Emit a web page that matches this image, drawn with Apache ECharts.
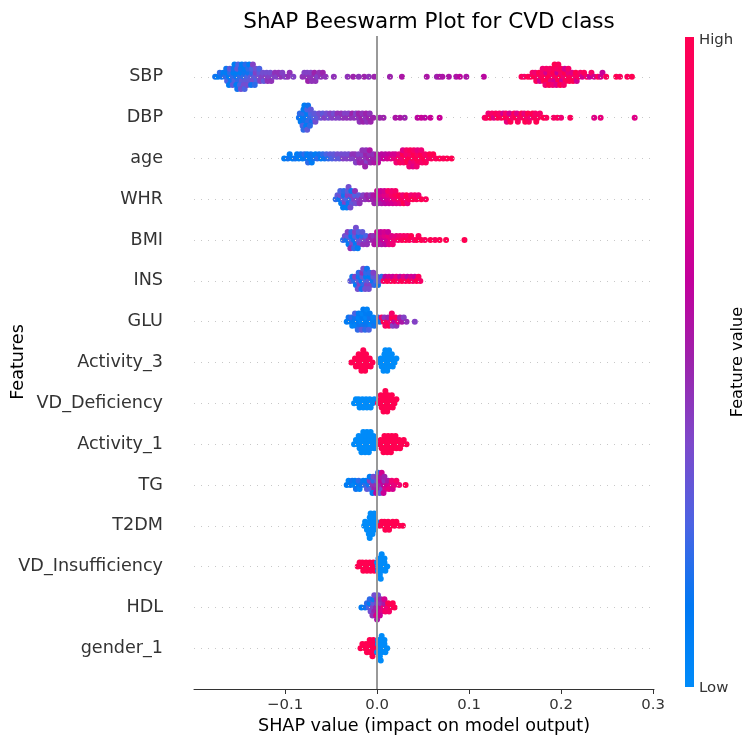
<!DOCTYPE html>
<html>
<head>
<meta charset="utf-8">
<title>ShAP Beeswarm Plot for CVD class</title>
<script src="https://cdn.jsdelivr.net/npm/echarts@6/dist/echarts.min.js"></script>
<style>
  html, body { margin: 0; padding: 0; background: #fff; }
  #chart { width: 748px; height: 740px; }
</style>
</head>
<body>
<div id="chart"></div>
<script>
// features, top row first
const features = ['SBP', 'DBP', 'age', 'WHR', 'BMI', 'INS', 'GLU', 'Activity_3', 'VD_Deficiency',
  'Activity_1', 'TG', 'T2DM', 'VD_Insufficiency', 'HDL', 'gender_1'];
const xTicks = [-0.1, 0, 0.1, 0.2, 0.3];

// each point: [shap value, feature value scaled 0 (low) .. 1 (high)]
const sbp = [
  [-0.176,.15],[-0.173,.1],[-0.171,.2],[-0.169,.15],[-0.167,.1],
  [-0.165,.2],[-0.164,.1],[-0.163,.25],[-0.164,.15],
  [-0.161,.1],[-0.16,.2],[-0.159,.15],[-0.16,.3],[-0.161,.1],
  [-0.157,.2],[-0.156,.1],[-0.155,.25],[-0.156,.15],[-0.157,.3],[-0.155,.1],
  [-0.153,.15],[-0.152,.1],[-0.151,.2],[-0.152,.3],[-0.153,.1],[-0.151,.25],[-0.152,.15],
  [-0.149,.2],[-0.148,.1],[-0.147,.3],[-0.148,.15],[-0.149,.25],[-0.147,.1],[-0.148,.35],
  [-0.145,.2],[-0.144,.15],[-0.143,.3],[-0.144,.1],[-0.145,.35],[-0.143,.2],[-0.144,.25],
  [-0.141,.25],[-0.14,.15],[-0.139,.3],[-0.14,.2],[-0.141,.35],[-0.139,.1],
  [-0.137,.3],[-0.136,.2],[-0.135,.35],[-0.136,.25],[-0.137,.15],[-0.135,.4],
  [-0.133,.3],[-0.132,.4],[-0.131,.25],[-0.132,.35],[-0.133,.2],
  [-0.129,.35],[-0.128,.3],[-0.127,.4],[-0.128,.25],
  [-0.125,.4],[-0.124,.35],[-0.123,.3],[-0.121,.4],[-0.12,.35],[-0.119,.45],
  [-0.117,.4],[-0.116,.35],[-0.115,.45],[-0.113,.4],[-0.111,.45],[-0.109,.4],[-0.107,.45],
  [-0.105,.45],[-0.103,.4],[-0.1,.4],[-0.097,.45],[-0.095,.45],[-0.091,.4],
  [-0.081,.45],[-0.079,.4],[-0.077,.45],[-0.076,.4],[-0.075,.5],
  [-0.073,.45],[-0.072,.4],[-0.071,.45],[-0.069,.45],[-0.068,.5],[-0.067,.45],
  [-0.065,.4],[-0.063,.45],[-0.061,.45],[-0.059,.5],[-0.056,.45],
  [-0.047,.45],[-0.032,.45],[-0.026,.5],[-0.02,.45],[-0.014,.5],[-0.009,.45],[-0.003,.5],
  [0.014,.5],[0.027,.55],[0.054,.55],[0.065,.5],[0.068,.55],[0.071,.55],[0.078,.55],
  [0.086,.55],[0.09,.6],[0.097,.55],[0.116,.6],
  [0.157,.95],[0.16,.9],[0.164,1],[0.167,.95],[0.169,.9],
  [0.171,1],[0.172,.85],[0.173,.95],[0.175,.9],[0.176,1],[0.177,.7],
  [0.179,.95],[0.18,.9],[0.181,1],[0.18,.85],
  [0.183,.95],[0.184,.7],[0.185,1],[0.184,.9],[0.183,.85],
  [0.187,1],[0.188,.95],[0.189,.75],[0.188,.9],[0.187,1],
  [0.191,.9],[0.192,1],[0.193,.7],[0.192,.95],[0.191,.85],[0.193,1],
  [0.195,.95],[0.196,.65],[0.197,1],[0.196,.9],[0.195,.75],[0.197,.95],
  [0.199,1],[0.2,.9],[0.201,.7],[0.2,.95],[0.199,1],
  [0.203,.85],[0.204,1],[0.205,.95],[0.204,.7],[0.203,.9],
  [0.207,.95],[0.208,.8],[0.209,1],[0.208,.9],
  [0.211,.95],[0.212,.75],[0.213,1],[0.215,.9],[0.216,1],[0.217,.7],
  [0.219,.95],[0.221,.9],[0.223,.7],[0.225,.95],[0.228,.9],[0.231,.65],[0.233,.9],
  [0.236,.7],[0.24,.95],[0.243,.7],[0.245,.65],[0.249,.95],[0.26,1],[0.264,.95],
  [0.272,.95],[0.277,1]
];
const dbp = [
  [-0.085,.15],[-0.084,.2],[-0.083,.1],
  [-0.081,.1],[-0.08,.2],[-0.079,.15],[-0.08,.1],[-0.081,.25],[-0.079,.1],[-0.08,.2],
  [-0.077,.15],[-0.076,.1],[-0.075,.2],[-0.076,.25],[-0.077,.1],[-0.075,.15],[-0.076,.3],
  [-0.073,.2],[-0.072,.25],[-0.071,.15],[-0.072,.3],[-0.073,.2],
  [-0.069,.25],[-0.068,.3],[-0.067,.35],[-0.065,.3],[-0.063,.35],[-0.061,.35],[-0.059,.3],
  [-0.057,.4],[-0.055,.35],[-0.053,.35],[-0.051,.4],[-0.049,.4],[-0.047,.35],
  [-0.045,.4],[-0.043,.45],[-0.041,.4],[-0.039,.45],[-0.037,.45],[-0.035,.4],
  [-0.033,.45],[-0.031,.4],[-0.029,.45],[-0.027,.5],[-0.025,.45],[-0.023,.4],
  [-0.021,.45],[-0.02,.5],[-0.019,.45],[-0.017,.5],[-0.016,.45],[-0.015,.5],
  [-0.013,.45],[-0.012,.5],[-0.011,.45],[-0.009,.5],[-0.008,.45],[-0.007,.5],[-0.004,.5],
  [0.003,.5],[0.007,.5],[0.02,.55],[0.025,.55],[0.03,.5],[0.044,.6],[0.048,.65],
  [0.052,.6],[0.058,.65],[0.068,.65],
  [0.117,.9],[0.119,.95],[0.121,.85],[0.123,1],[0.125,.9],[0.127,.75],[0.129,.95],
  [0.131,1],[0.133,.9],[0.135,.95],[0.137,.7],[0.139,1],[0.14,.9],[0.141,.8],
  [0.143,.95],[0.144,.7],[0.145,1],[0.147,.9],[0.149,.95],[0.151,1],[0.152,.75],[0.153,.95],
  [0.155,.9],[0.157,1],[0.159,.95],[0.16,.8],[0.161,1],[0.163,.9],[0.164,1],[0.165,.95],
  [0.167,.85],[0.169,1],[0.171,.95],[0.172,.9],[0.173,1],[0.175,.95],[0.177,.9],
  [0.181,1],[0.184,.95],[0.192,.9],[0.196,.95],[0.2,.85],[0.21,.95],[0.236,.75],
  [0.243,.8],[0.28,.75]
];
const age = [
  [-0.101,.1],[-0.097,.15],[-0.095,.1],[-0.092,.1],[-0.089,.15],[-0.087,.1],
  [-0.085,.1],[-0.083,.15],[-0.081,.1],[-0.079,.2],[-0.077,.15],[-0.076,.1],[-0.075,.2],
  [-0.073,.1],[-0.072,.15],[-0.071,.1],[-0.069,.15],[-0.067,.1],[-0.065,.2],[-0.063,.15],
  [-0.061,.1],[-0.059,.2],[-0.057,.15],[-0.055,.25],[-0.053,.2],[-0.051,.3],
  [-0.049,.25],[-0.047,.3],[-0.045,.3],[-0.043,.35],[-0.041,.3],[-0.039,.35],
  [-0.037,.4],[-0.035,.35],[-0.033,.4],[-0.031,.35],[-0.029,.4],[-0.027,.45],
  [-0.025,.4],[-0.024,.45],[-0.023,.4],[-0.021,.45],[-0.02,.4],[-0.019,.5],
  [-0.017,.45],[-0.016,.4],[-0.015,.5],[-0.016,.45],
  [-0.013,.45],[-0.012,.5],[-0.011,.4],[-0.012,.45],[-0.013,.5],
  [-0.009,.5],[-0.008,.45],[-0.007,.5],[-0.008,.55],[-0.005,.5],[-0.004,.45],[-0.003,.55],
  [-0.001,.5],[0,.55],[0.001,.6],[0.003,.55],[0.005,.6],[0.007,.65],[0.009,.6],
  [0.011,.7],[0.013,.65],[0.015,.75],[0.017,.7],[0.019,.8],[0.02,.7],[0.021,.85],
  [0.023,.9],[0.024,.8],[0.025,.95],[0.027,.85],[0.028,1],[0.029,.9],[0.028,.75],
  [0.031,.95],[0.032,.85],[0.033,1],[0.032,.9],
  [0.035,1],[0.036,.9],[0.037,.8],[0.036,.95],[0.035,.85],
  [0.039,.95],[0.04,1],[0.041,.85],[0.04,.9],[0.039,.75],
  [0.043,1],[0.044,.9],[0.045,.95],[0.044,.8],[0.043,.85],
  [0.047,.95],[0.048,1],[0.049,.9],[0.048,.85],[0.051,1],[0.052,.9],[0.053,.95],
  [0.055,.9],[0.057,1],[0.059,.95],[0.061,1],[0.064,.95],[0.068,1],[0.072,.95],
  [0.076,1],[0.081,1]
];
const whr = [
  [-0.045,.2],[-0.043,.3],[-0.041,.15],[-0.04,.35],[-0.039,.1],[-0.04,.25],
  [-0.037,.3],[-0.036,.15],[-0.035,.4],[-0.036,.2],[-0.037,.1],
  [-0.033,.25],[-0.032,.4],[-0.031,.15],[-0.032,.3],[-0.033,.1],[-0.031,.35],
  [-0.029,.2],[-0.028,.4],[-0.027,.3],[-0.028,.15],[-0.029,.35],
  [-0.025,.4],[-0.024,.25],[-0.023,.35],[-0.024,.45],[-0.021,.4],[-0.02,.3],[-0.019,.45],
  [-0.017,.45],[-0.015,.4],[-0.013,.45],[-0.011,.5],[-0.009,.5],[-0.007,.45],
  [-0.005,.5],[-0.004,.55],[-0.003,.5],[-0.001,.55],[0,.6],[0.001,.5],[0,.65],
  [0.003,.6],[0.004,.7],[0.005,.55],[0.004,.65],[0.007,.65],[0.008,.75],[0.009,.6],[0.008,.7],
  [0.011,.7],[0.012,.8],[0.013,.65],[0.012,.9],[0.015,.75],[0.016,.9],[0.017,.7],[0.016,.85],
  [0.019,.85],[0.02,.95],[0.021,.75],[0.02,.9],[0.023,.9],[0.024,1],[0.025,.8],
  [0.027,.95],[0.028,.85],[0.029,1],[0.031,.9],[0.032,1],[0.033,.8],
  [0.035,.95],[0.037,.85],[0.039,1],[0.041,.9],[0.043,.95],[0.045,.85],[0.048,1],[0.053,.95]
];
const bmi = [
  [-0.037,.2],[-0.035,.35],[-0.033,.15],[-0.032,.3],[-0.031,.1],[-0.032,.4],
  [-0.029,.25],[-0.028,.1],[-0.027,.35],[-0.028,.2],[-0.029,.45],
  [-0.025,.15],[-0.024,.3],[-0.023,.1],[-0.024,.4],[-0.025,.2],[-0.023,.35],
  [-0.021,.3],[-0.02,.15],[-0.019,.4],[-0.02,.25],[-0.021,.1],
  [-0.017,.35],[-0.016,.2],[-0.015,.45],[-0.016,.3],[-0.013,.4],[-0.012,.25],[-0.011,.45],
  [-0.009,.45],[-0.007,.5],[-0.005,.5],[-0.004,.45],[-0.003,.55],
  [-0.001,.55],[0,.5],[0.001,.6],[0,.65],[0.003,.6],[0.004,.7],[0.005,.55],[0.004,.65],
  [0.007,.65],[0.008,.75],[0.009,.6],[0.008,.7],[0.011,.7],[0.012,.8],[0.013,.75],[0.012,.65],
  [0.015,.8],[0.016,.75],[0.017,.85],[0.019,.85],[0.021,.8],[0.023,.9],[0.025,.85],
  [0.027,.95],[0.029,.9],[0.031,1],[0.033,.9],[0.035,.95],[0.037,1],[0.04,.9],
  [0.043,1],[0.045,.95],[0.048,1],[0.052,.95],[0.058,1],[0.063,.95],[0.068,1],[0.075,1],[0.095,1]
];
const ins = [
  [-0.029,.3],[-0.027,.15],[-0.025,.2],[-0.024,.4],[-0.023,.1],
  [-0.021,.3],[-0.02,.15],[-0.019,.4],[-0.02,.2],[-0.021,.35],
  [-0.017,.1],[-0.016,.3],[-0.015,.2],[-0.016,.45],[-0.017,.15],[-0.015,.35],
  [-0.013,.25],[-0.012,.1],[-0.011,.4],[-0.012,.2],[-0.013,.35],[-0.011,.15],
  [-0.009,.3],[-0.008,.1],[-0.007,.4],[-0.008,.2],[-0.009,.35],
  [-0.005,.15],[-0.004,.3],[-0.003,.2],[-0.004,.4],[-0.001,.25],[0,.35],[0.001,.15],
  [0.003,.3],[0.005,.2],
  [0.007,.9],[0.009,.6],[0.011,1],[0.013,.7],[0.015,.95],[0.017,.65],[0.019,1],[0.021,.8],
  [0.023,.9],[0.025,.6],[0.027,1],[0.029,.75],[0.031,.95],[0.033,.6],[0.035,1],[0.037,.7],
  [0.039,.9],[0.041,.65],[0.043,1],[0.045,.95],[0.047,.9]
];
const glu = [
  [-0.033,.1],[-0.031,.15],[-0.029,.1],[-0.028,.2],[-0.027,.05],
  [-0.025,.1],[-0.024,.15],[-0.023,.05],[-0.024,.25],
  [-0.021,.1],[-0.02,.05],[-0.019,.15],[-0.02,.1],[-0.021,.2],
  [-0.017,.05],[-0.016,.1],[-0.015,.15],[-0.016,.05],[-0.017,.3],[-0.015,.1],
  [-0.013,.1],[-0.012,.05],[-0.011,.15],[-0.012,.1],[-0.013,.2],[-0.011,.05],
  [-0.009,.1],[-0.008,.15],[-0.007,.05],[-0.008,.1],[-0.009,.25],
  [-0.005,.1],[-0.004,.05],[-0.003,.15],[-0.001,.1],[0.001,.2],[0.003,.15],
  [0.005,.9],[0.007,1],[0.008,.45],[0.009,.9],[0.011,.95],[0.012,.5],[0.013,1],
  [0.015,.85],[0.016,1],[0.017,.4],[0.016,.9],[0.019,.6],[0.02,.95],[0.021,.45],
  [0.023,.8],[0.025,.5],[0.027,.55],[0.029,.4],[0.032,.45],[0.041,.4]
];
const activity3 = [
  [-0.028,1],[-0.025,1],[-0.024,1],[-0.023,1],[-0.021,1],[-0.02,1],[-0.019,1],[-0.02,1],
  [-0.017,1],[-0.016,1],[-0.015,1],[-0.016,1],[-0.017,1],[-0.015,1],
  [-0.013,1],[-0.012,1],[-0.011,1],[-0.012,1],[-0.013,1],[-0.009,1],[-0.008,1],[-0.007,1],[-0.005,1],
  [0.003,0],[0.004,0],[0.005,0],[0.007,0],[0.008,0],[0.009,0],[0.008,0],[0.007,0],[0.009,0],
  [0.011,0],[0.012,0],[0.013,0],[0.012,0],[0.011,0],[0.013,0],
  [0.015,0],[0.016,0],[0.017,0],[0.016,0],[0.019,0],[0.021,0]
];
const vdDeficiency = [
  [-0.025,0],[-0.023,0],[-0.021,0],[-0.02,0],[-0.019,0],[-0.017,0],[-0.016,0],[-0.015,0],
  [-0.013,0],[-0.012,0],[-0.011,0],[-0.009,0],[-0.008,0],[-0.007,0],[-0.005,0],[-0.003,0],
  [0.001,1],[0.003,1],[0.004,1],[0.005,1],[0.004,1],
  [0.007,1],[0.008,1],[0.009,1],[0.008,1],[0.007,1],[0.009,1],
  [0.011,1],[0.012,1],[0.013,1],[0.012,1],[0.011,1],
  [0.015,1],[0.016,1],[0.017,1],[0.016,1],[0.019,1],[0.021,1]
];
const activity1 = [
  [-0.025,0],[-0.023,0],[-0.021,0],[-0.02,0],[-0.019,0],[-0.02,0],
  [-0.017,0],[-0.016,0],[-0.015,0],[-0.016,0],[-0.017,0],[-0.015,0],
  [-0.013,0],[-0.012,0],[-0.011,0],[-0.012,0],[-0.013,0],[-0.011,0],
  [-0.009,0],[-0.008,0],[-0.007,0],[-0.008,0],[-0.009,0],[-0.007,0],
  [-0.005,0],[-0.004,0],[-0.003,0],[-0.004,0],[-0.001,0],[-0.0015,0],
  [0.003,1],[0.004,1],[0.005,1],[0.007,1],[0.008,1],[0.009,1],[0.008,1],[0.007,1],
  [0.011,1],[0.012,1],[0.013,1],[0.012,1],[0.011,1],[0.015,1],[0.016,1],[0.017,1],[0.016,1],[0.015,1],
  [0.019,1],[0.02,1],[0.021,1],[0.02,1],[0.023,1],[0.024,1],[0.025,1],[0.027,1],[0.029,1],[0.032,1]
];
const tg = [
  [-0.033,.1],[-0.031,.05],[-0.029,.1],[-0.027,.15],[-0.025,.05],[-0.024,.1],[-0.023,.15],
  [-0.021,.1],[-0.02,.2],[-0.019,.05],[-0.017,.15],[-0.015,.1],[-0.013,.2],[-0.012,.1],[-0.011,.3],
  [-0.009,.15],[-0.008,.4],[-0.007,.25],[-0.008,.1],
  [-0.005,.45],[-0.004,.2],[-0.003,.5],[-0.004,.35],[-0.005,.1],
  [-0.001,.45],[0,.3],[0.001,.55],[0,.4],[-0.001,.6],[0.001,.2],
  [0.003,.5],[0.004,.65],[0.005,.4],[0.004,.55],[0.003,.3],[0.005,.7],
  [0.007,.6],[0.008,.45],[0.009,.75],[0.008,.5],[0.007,.65],
  [0.011,.7],[0.012,.55],[0.013,.8],[0.015,.75],[0.016,.85],[0.017,.7],
  [0.019,.8],[0.021,.9],[0.024,.85],[0.031,1]
];
const t2dm = [
  [-0.014,0],[-0.013,0],[-0.011,0],[-0.009,0],[-0.008,0],[-0.007,0],[-0.008,0],[-0.009,0],[-0.007,0],[-0.008,0],
  [-0.005,0],[-0.004,0],[-0.003,0],[-0.004,0],[-0.005,0],[-0.003,0],[-0.001,0],[-0.001,0],
  [0.003,1],[0.005,1],[0.007,1],[0.008,1],[0.009,1],[0.011,1],[0.012,1],[0.013,1],
  [0.015,1],[0.017,1],[0.019,1],[0.021,1],[0.024,1],[0.028,1]
];
const vdInsufficiency = [
  [-0.021,1],[-0.019,1],[-0.017,1],[-0.016,1],[-0.015,1],[-0.013,1],[-0.012,1],[-0.011,1],
  [-0.009,1],[-0.008,1],[-0.007,1],[-0.005,1],[-0.004,1],[-0.003,1],
  [0.001,0],[0,0],[0.001,0],[0.0015,0],
  [0.003,0],[0.004,0],[0.005,0],[0.004,0],[0.003,0],[0.005,0],[0.004,0],
  [0.007,0],[0.008,0],[0.009,0],[0.008,0],[0.011,0]
];
const hdl = [
  [-0.017,.1],[-0.013,.15],[-0.011,.2],[-0.009,.25],[-0.008,.1],[-0.007,.35],[-0.008,.2],
  [-0.005,.4],[-0.004,.3],[-0.003,.5],[-0.004,.15],[-0.005,.45],[-0.003,.35],
  [-0.001,.5],[0,.4],[0.001,.6],[0,.45],[-0.001,.7],[0.001,.35],[0,.55],
  [0.003,.6],[0.004,.45],[0.005,.75],[0.004,.5],[0.003,.65],
  [0.007,.8],[0.008,.55],[0.009,.9],[0.008,.7],[0.011,.85],[0.012,1],[0.013,.9],
  [0.015,.95],[0.017,1],[0.019,1]
];
const gender1 = [
  [-0.018,1],[-0.016,1],[-0.013,1],[-0.012,1],[-0.011,1],
  [-0.009,1],[-0.008,1],[-0.007,1],[-0.008,1],
  [-0.005,1],[-0.004,1],[-0.003,1],[-0.004,1],[-0.005,1],[-0.001,1],
  [0.001,0],[0,0],[0.001,0],
  [0.003,0],[0.004,0],[0.005,0],[0.004,0],[0.003,0],[0.005,0],[0.004,0],
  [0.007,0],[0.008,0],[0.009,0],[0.008,0],[0.011,0]
];
const featureData = [sbp, dbp, age, whr, bmi, ins, glu, activity3, vdDeficiency,
  activity1, tg, t2dm, vdInsufficiency, hdl, gender1];

// shap red_blue colormap, low -> high
const shapColors = ['#008bf9', '#0078f3', '#4b63e3', '#7d49cb', '#9c23ac',
  '#c2009c', '#e00086', '#f5006d', '#ff0051'];

const FONT = 'DejaVu Sans';
const BIN = 0.004;     // width of a swarm bin in shap units
const LAYER = 0.1;     // vertical step per stacked layer, in row units

// beeswarm: points in the same bin are stacked alternately up and down
function swarm(points, row) {
  const bins = points.map(p => Math.round(p[0] / BIN));
  const order = points.map((p, i) => i).sort((a, b) => bins[a] - bins[b] || a - b);
  const ys = new Array(points.length).fill(0);
  let layer = 0, last = null;
  order.forEach(i => {
    if (bins[i] !== last) layer = 0;
    ys[i] = Math.ceil(layer / 2) * (layer % 2 ? 1 : -1);
    layer++;
    last = bins[i];
  });
  const maxY = Math.max(1, ...ys.map(Math.abs));
  const step = Math.min(LAYER, 0.36 / maxY);
  return points.map((p, i) => [p[0], row + ys[i] * step, p[1]]);
}

const nRows = features.length;
let dots = [];
featureData.forEach((pts, i) => {
  dots = dots.concat(swarm(pts, nRows - 1 - i));
});
const rowValues = features.map((f, i) => i);

const chart = echarts.init(document.getElementById('chart'));
chart.setOption({
  animation: false,
  backgroundColor: '#fff',
  textStyle: { fontFamily: FONT },
  title: {
    text: 'ShAP Beeswarm Plot for CVD class',
    left: 424, top: 6, textAlign: 'center',
    textStyle: { fontFamily: FONT, fontSize: 21.5, fontWeight: 'normal', color: '#000' }
  },
  grid: { left: 194, right: 94, top: 36, bottom: 51, containLabel: false, outerBoundsMode: 'none' },
  xAxis: {
    type: 'value',
    min: -0.199, max: 0.301,
    name: 'SHAP value (impact on model output)',
    nameLocation: 'middle', nameGap: 25,
    nameTextStyle: { fontFamily: FONT, fontSize: 17.6, color: '#000' },
    axisLine: { show: true, onZero: false, lineStyle: { color: '#333', width: 1 } },
    axisTick: { show: true, customValues: xTicks, length: 5, lineStyle: { color: '#333' } },
    axisLabel: {
      customValues: xTicks, margin: 9, fontSize: 14.9, color: '#333', fontFamily: FONT,
      formatter: v => (v < 0 ? '\u2212' : '') + Math.abs(v).toFixed(1)
    },
    splitLine: { show: false }
  },
  yAxis: {
    type: 'value',
    min: -1, max: nRows,
    axisLine: { show: false, onZero: false },
    axisTick: { show: false },
    splitLine: { show: false },
    axisLabel: {
      customValues: rowValues, margin: 31, fontSize: 17.6, color: '#333', fontFamily: FONT,
      formatter: v => features[nRows - 1 - Math.round(v)]
    }
  },
  visualMap: {
    type: 'continuous', show: false, seriesIndex: 1, dimension: 2,
    min: 0, max: 1, inRange: { color: shapColors }
  },
  series: [
    {
      type: 'scatter', data: [], silent: true, z: 1,
      markLine: {
        silent: true, symbol: ['none', 'none'], label: { show: false }, animation: false,
        lineStyle: { color: '#c8c8c8', width: 1, type: [1, 6] },
        data: rowValues.map(r => ({ yAxis: r }))
      }
    },
    {
      type: 'scatter', data: dots, symbolSize: 6, z: 3,
      itemStyle: { opacity: 1, borderWidth: 0 }
    },
    {
      type: 'scatter', data: [], silent: true, z: 4,
      markLine: {
        silent: true, symbol: ['none', 'none'], label: { show: false }, animation: false,
        lineStyle: { color: '#999999', width: 2, type: 'solid' },
        data: [{ xAxis: 0 }]
      }
    }
  ],
  graphic: [
    {
      type: 'text', x: 18, y: 362, rotation: Math.PI / 2,
      style: { text: 'Features', fontFamily: FONT, fontSize: 17.6, fill: '#000', textAlign: 'center', textVerticalAlign: 'middle' }
    },
    {
      type: 'rect', shape: { x: 685, y: 37, width: 9, height: 650 },
      style: {
        fill: new echarts.graphic.LinearGradient(0, 0, 0, 1,
          shapColors.slice().reverse().map((c, i, a) => ({ offset: i / (a.length - 1), color: c })))
      }
    },
    { type: 'text', x: 699, y: 40, style: { text: 'High', fontFamily: FONT, fontSize: 14.9, fill: '#333', textVerticalAlign: 'middle' } },
    { type: 'text', x: 699, y: 688, style: { text: 'Low', fontFamily: FONT, fontSize: 14.9, fill: '#333', textVerticalAlign: 'middle' } },
    {
      type: 'text', x: 738, y: 362, rotation: Math.PI / 2,
      style: { text: 'Feature value', fontFamily: FONT, fontSize: 16.2, fill: '#000', textAlign: 'center', textVerticalAlign: 'middle' }
    }
  ]
});
</script>
</body>
</html>
